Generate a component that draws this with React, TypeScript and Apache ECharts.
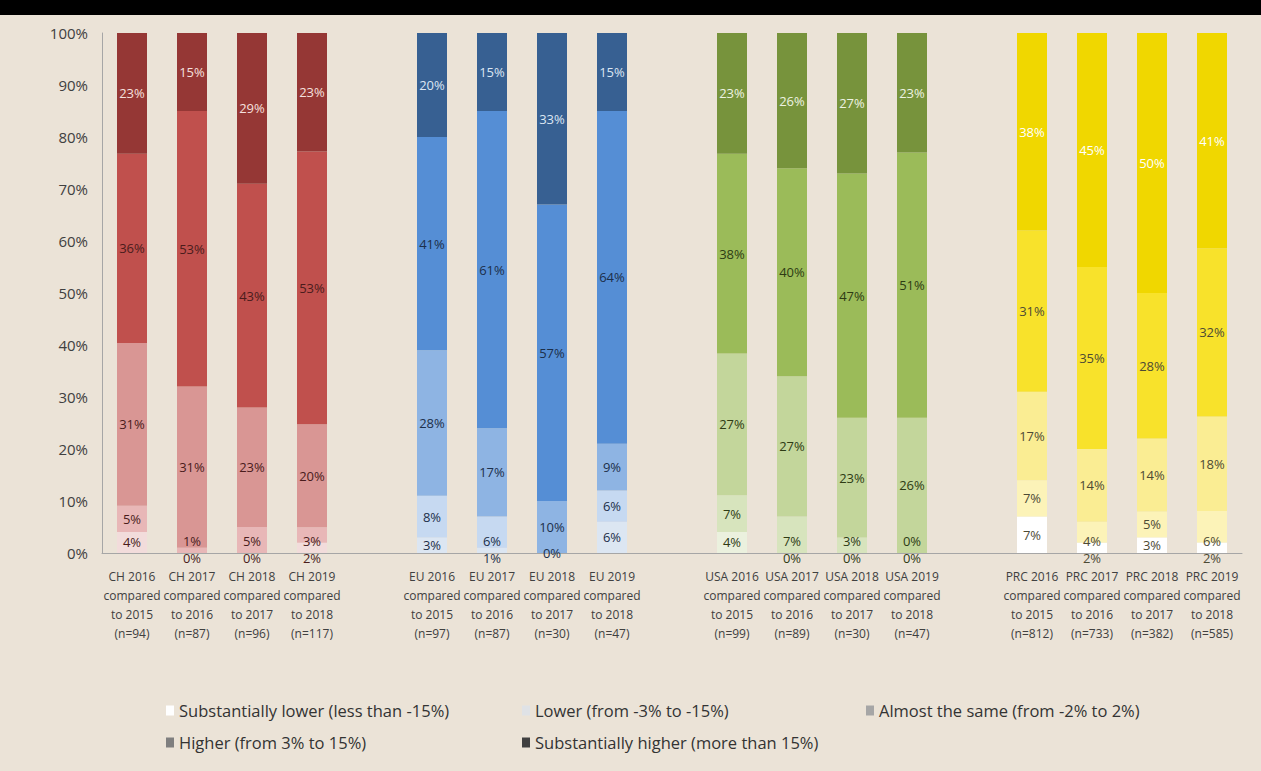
import React, { useEffect, useRef } from 'react';
import * as echarts from 'echarts';

const categories = [
  'CH 2016\ncompared\nto 2015\n(n=94)', 'CH 2017\ncompared\nto 2016\n(n=87)', 'CH 2018\ncompared\nto 2017\n(n=96)', 'CH 2019\ncompared\nto 2018\n(n=117)', '',
  'EU 2016\ncompared\nto 2015\n(n=97)', 'EU 2017\ncompared\nto 2016\n(n=87)', 'EU 2018\ncompared\nto 2017\n(n=30)', 'EU 2019\ncompared\nto 2018\n(n=47)', '',
  'USA 2016\ncompared\nto 2015\n(n=99)', 'USA 2017\ncompared\nto 2016\n(n=89)', 'USA 2018\ncompared\nto 2017\n(n=30)', 'USA 2019\ncompared\nto 2018\n(n=47)', '',
  'PRC 2016\ncompared\nto 2015\n(n=812)', 'PRC 2017\ncompared\nto 2016\n(n=733)', 'PRC 2018\ncompared\nto 2017\n(n=382)', 'PRC 2019\ncompared\nto 2018\n(n=585)',
];

const seriesNames = [
  'Substantially lower (less than -15%)',
  'Lower (from -3% to -15%)',
  'Almost the same (from -2% to 2%)',
  'Higher (from 3% to 15%)',
  'Substantially higher (more than 15%)',
];

// 16 bars: CH 2016..2019, EU 2016..2019, USA 2016..2019, PRC 2016..2019
const subLower: (number | null)[] = [4, 0, 0, 2, 3, 1, null, 6, 4, 0, 0, 0, 7, 2, 3, 2];
const lower: (number | null)[] = [5, 1, 5, 3, 8, 6, 0, 6, 7, 7, 3, 0, 7, 4, 5, 6];
const almostSame: (number | null)[] = [31, 31, 23, 20, 28, 17, 10, 9, 27, 27, 23, 26, 17, 14, 14, 18];
const higher: (number | null)[] = [36, 53, 43, 53, 41, 61, 57, 64, 38, 40, 47, 51, 31, 35, 28, 32];
const subHigher: (number | null)[] = [23, 15, 29, 23, 20, 15, 33, 15, 23, 26, 27, 23, 38, 45, 50, 41];

const seriesValues = [subLower, lower, almostSame, higher, subHigher];

const groupColors = [
  ['#f2dcdb', '#e8b7b7', '#d99694', '#c0504d', '#953735'],
  ['#dce6f2', '#c6d9f1', '#8eb4e3', '#558ed5', '#376092'],
  ['#ebf1de', '#d7e4bd', '#c3d69b', '#9bbb59', '#77933c'],
  ['#ffffff', '#fcf3b8', '#faed93', '#f8e22b', '#f0d700'],
];
const groupLabelDark = ['#4a1c1c', '#1c2f4a', '#2e3b14', '#4d4a35'];
const groupLabelLight = ['#f5e0df', '#dce6f2', '#eef3e2', '#ffffff'];

const legendColors = ['#ffffff', '#dfe2e6', '#a6a6a6', '#7f7f7f', '#404040'];
const legendLeft = [161, 517, 861, 161, 517];
const legendTop = [697, 697, 697, 729, 729];

const FONT = 'Open Sans';
const GRID_TOP = 33;
const GRID_BOTTOM = 218;
const AXIS_Y = 771 - GRID_BOTTOM;

function barOf(ci: number): number {
  const g = Math.floor(ci / 5);
  const pos = ci % 5;
  if (pos === 4) return -1;
  return g * 4 + pos;
}

export default function App() {
  const ref = useRef<HTMLDivElement>(null);
  useEffect(() => {
    if (!ref.current) return;
    const chart = echarts.init(ref.current, undefined, { renderer: 'svg' });

    const totals = subLower.map((_, b) =>
      seriesValues.reduce((acc, arr) => acc + (arr[b] == null ? 0 : (arr[b] as number)), 0)
    );

    const series = seriesValues.map((vals, s) => ({
      name: seriesNames[s],
      type: 'bar',
      stack: 'total',
      barWidth: 30,
      data: categories.map((_, ci) => {
        const b = barOf(ci);
        if (b < 0 || vals[b] == null) return '-';
        const g = Math.floor(b / 4);
        return {
          value: ((vals[b] as number) / totals[b]) * 100,
          raw: vals[b],
          itemStyle: { color: groupColors[g][s] },
          label: { color: s === 4 ? groupLabelLight[g] : groupLabelDark[g] },
        };
      }),
      label: {
        show: true,
        position: 'inside',
        fontSize: 13,
        fontFamily: FONT,
        formatter: (p: any) => (p.data && p.data.raw != null ? p.data.raw + '%' : ''),
      },
      labelLayout:
        s < 2
          ? (params: any) => {
              const b = barOf(params.dataIndex);
              if (b < 0) return {};
              const sl = subLower[b];
              if (sl == null || sl >= 3) return {};
              const cx = params.rect.x + params.rect.width / 2;
              if (s === 0) return { x: cx, y: AXIS_Y + 5, align: 'center', verticalAlign: 'middle' };
              return { x: cx, y: AXIS_Y - 12, align: 'center', verticalAlign: 'middle' };
            }
          : undefined,
    }));

    const legend = seriesNames.map((name, i) => ({
      data: [{ name, itemStyle: { color: legendColors[i], borderWidth: 0 } }],
      left: legendLeft[i],
      top: legendTop[i],
      icon: 'rect',
      itemWidth: 8,
      itemHeight: 10,
      itemGap: 0,
      selectedMode: false,
      textStyle: { fontSize: 16.5, color: '#333333', fontFamily: FONT },
    }));

    chart.setOption({
      animation: false,
      backgroundColor: '#ebe3d7',
      textStyle: { fontFamily: FONT },
      grid: { left: 102, right: 19, top: GRID_TOP, bottom: GRID_BOTTOM, containLabel: false },
      xAxis: {
        type: 'category',
        data: categories,
        axisTick: { show: false },
        axisLine: { lineStyle: { color: '#a6a6a6' } },
        axisLabel: { interval: 0, fontSize: 12, lineHeight: 19, color: '#404040', margin: 14, fontFamily: FONT },
      },
      yAxis: {
        type: 'value',
        min: 0,
        max: 100,
        interval: 10,
        axisLine: { show: true, lineStyle: { color: '#a6a6a6' } },
        axisTick: { show: false },
        splitLine: { show: false },
        axisLabel: { formatter: '{value}%', fontSize: 15, color: '#404040', margin: 14, fontFamily: FONT },
      },
      legend,
      series,
      graphic: [
        { type: 'rect', shape: { x: 0, y: 0, width: 1261, height: 15 }, style: { fill: '#000000' } },
      ],
    });

    return () => chart.dispose();
  }, []);

  return (
    <div
      ref={ref}
      style={{ position: 'absolute', left: 0, top: 0, width: 1261, height: 771 }}
    />
  );
}
